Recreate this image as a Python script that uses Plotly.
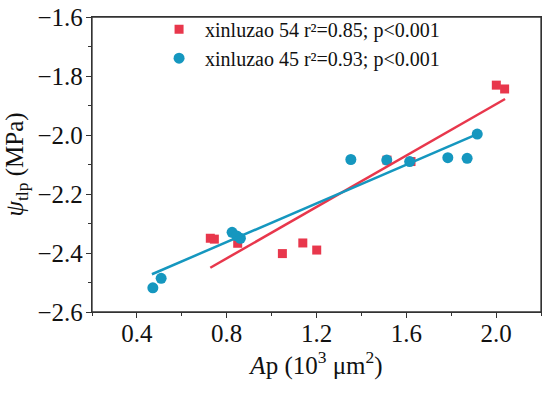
import plotly.graph_objects as go

# xinluzao 54 (red squares)
x54 = [0.727, 0.745, 0.849, 1.048, 1.139, 1.201, 1.514, 1.621, 2.001, 2.038]
y54 = [-2.350, -2.353, -2.367, -2.402, -2.366, -2.390, -2.085, -2.090, -1.831, -1.844]
fit54_x = [0.727, 2.040]
fit54_y = [-2.450, -1.878]

# xinluzao 45 (blue circles)
x45 = [0.471, 0.508, 0.824, 0.845, 0.861, 1.353, 1.513, 1.615, 1.785, 1.871, 1.916]
y45 = [-2.518, -2.486, -2.330, -2.342, -2.350, -2.083, -2.085, -2.090, -2.077, -2.079, -1.997]
fit45_x = [0.467, 1.916]
fit45_y = [-2.472, -1.997]

y_ticks = [-2.6, -2.4, -2.2, -2.0, -1.8, -1.6]
x_ticks = [0.4, 0.8, 1.2, 1.6, 2.0]

labels = ["xinluzao 54 r²=0.85; p<0.001",
          "xinluzao 45 r²=0.93; p<0.001"]

RED = "#E8374C"
BLUE = "#1597BF"
FONT = "Liberation Serif"
AXIS_COLOR = "#333333"

fig = go.Figure()
fig.add_trace(go.Scatter(x=x54, y=y54, mode="markers", name=labels[0],
                         marker=dict(symbol="square", size=9, color=RED)))
fig.add_trace(go.Scatter(x=x45, y=y45, mode="markers", name=labels[1],
                         marker=dict(symbol="circle", size=11, color=BLUE)))
fig.add_trace(go.Scatter(x=fit54_x, y=fit54_y, mode="lines", showlegend=False,
                         line=dict(color=RED, width=2.5)))
fig.add_trace(go.Scatter(x=fit45_x, y=fit45_y, mode="lines", showlegend=False,
                         line=dict(color=BLUE, width=2.5)))

axis_common = dict(showline=True, linecolor=AXIS_COLOR, linewidth=1.3, mirror=True,
                   showgrid=False, zeroline=False, ticks="outside", ticklen=5,
                   tickwidth=1.2, tickcolor=AXIS_COLOR, automargin=False,
                   tickfont=dict(family=FONT, size=25, color="#111111"))

fig.update_xaxes(range=[0.2, 2.2], tickvals=x_ticks, tickformat=".1f",
                 ticklabelstandoff=-6,
                 minor=dict(ticks="outside", ticklen=3, dtick=0.2, tick0=0.2,
                            tickcolor=AXIS_COLOR, tickwidth=1),
                 title=dict(text="<i>A</i>p (10<sup>3</sup> μm<sup>2</sup>)",
                            font=dict(family=FONT, size=25, color="#111111"),
                            standoff=4),
                 **axis_common)
fig.update_yaxes(range=[-2.6, -1.6], tickvals=y_ticks,
                 tickformat=".1f", ticklabelstandoff=-2,
                 minor=dict(ticks="outside", ticklen=3, dtick=0.1, tick0=-2.6,
                            tickcolor=AXIS_COLOR, tickwidth=1),
                 title=dict(text="<i>ψ</i><sub>tlp</sub> (MPa)",
                            font=dict(family=FONT, size=25, color="#111111"),
                            standoff=6),
                 **axis_common)

# frame around the plotting area (guarantees the top border is drawn)
fig.add_shape(type="rect", xref="paper", yref="paper", x0=0, y0=0, x1=1, y1=1,
              line=dict(color=AXIS_COLOR, width=1.3), fillcolor="rgba(0,0,0,0)",
              layer="above")

fig.update_layout(width=550, height=397,
                  margin=dict(l=92, r=9, t=17, b=85),
                  plot_bgcolor="white", paper_bgcolor="white",
                  legend=dict(x=0.136, y=1.025, xanchor="left", yanchor="top",
                              bgcolor="rgba(0,0,0,0)", tracegroupgap=0,
                              itemwidth=42,
                              font=dict(family=FONT, size=20, color="#111111")))

# remove the browser's default 8px page margin so the 550x397 figure fills the window
fig.write_html("out.html",
               config={"displayModeBar": False},
               post_script="document.body.style.margin='0';document.body.style.overflow='hidden';")
